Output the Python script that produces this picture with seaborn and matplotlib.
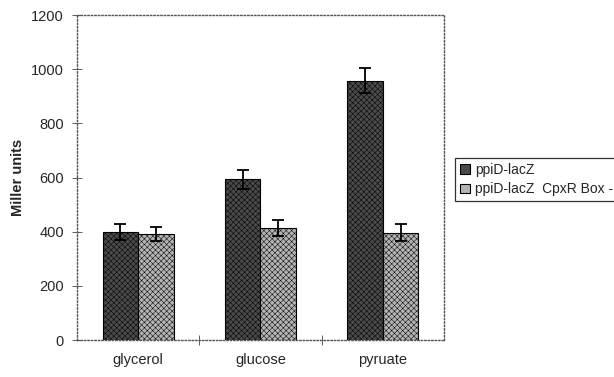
import matplotlib
matplotlib.use("Agg")
import matplotlib.pyplot as plt
import seaborn as sns
import pandas as pd

carbon_sources = ["glycerol", "glucose", "pyruate"]
strains = ["ppiD-lacZ", "ppiD-lacZ  CpxR Box -"]
wild_type = [400, 593, 958]
wild_type_err = [29, 36, 46]
box_mutant = [392, 414, 397]
box_mutant_err = [27, 31, 30]
y_ticks = [0, 200, 400, 600, 800, 1000, 1200]

sns.set_theme(style="white")
plt.rcParams["font.family"] = ["Liberation Sans", "DejaVu Sans"]
plt.rcParams["hatch.linewidth"] = 0.35

df = pd.DataFrame({
    "source": carbon_sources * 2,
    "strain": [strains[0]] * 3 + [strains[1]] * 3,
    "miller": wild_type + box_mutant,
    "err": wild_type_err + box_mutant_err,
})

fig = plt.figure(figsize=(6.14, 3.77), dpi=100)
ax = fig.add_axes([0.1254, 0.098, 0.5977, 0.862])

palette = {strains[0]: "#4a4a4a", strains[1]: "#b4b4b4"}
sns.barplot(data=df, x="source", y="miller", hue="strain", order=carbon_sources,
            hue_order=strains, palette=palette, errorbar=None, width=0.58,
            edgecolor="black", linewidth=0.8, saturation=1, ax=ax)

# stippled texture on the bars
for i, patch in enumerate(ax.patches[:6]):
    patch.set_hatch("xxxxxx")
    patch.set_edgecolor("black")

# error bars at each bar centre
for i, patch in enumerate(ax.patches[:6]):
    cx = patch.get_x() + patch.get_width() / 2
    h = patch.get_height()
    e = df["err"].iloc[i]
    ax.errorbar(cx, h, yerr=e, fmt="none", ecolor="black", elinewidth=1.3,
                capsize=4, capthick=1.3, zorder=5)

ax.set_ylim(0, 1200)
ax.set_xlim(-0.5, 2.5)
ax.set_yticks(y_ticks)
ax.set_yticklabels([str(t) for t in y_ticks], fontsize=10.5)
ax.set_xticks(range(3))
ax.set_xticklabels(carbon_sources, fontsize=10.5)
ax.set_xticks([0.5, 1.5], minor=True)
ax.tick_params(axis="x", which="major", length=0, pad=9)
ax.tick_params(axis="x", which="minor", bottom=True, length=7, direction="inout",
               width=0.6, color="#444")
ax.tick_params(axis="y", left=True, length=7, direction="inout", width=0.6,
               color="#444", pad=6)

ax.set_xlabel("")
ax.set_ylabel("Miller units", fontsize=10.5, fontweight="bold", labelpad=4)

for s in ax.spines.values():
    s.set_visible(True)
    s.set_linestyle((0, (1, 1.5)))
    s.set_color("#555555")
    s.set_linewidth(1.0)

leg = ax.legend(loc="upper left", bbox_to_anchor=(0.741, 0.581),
                bbox_transform=fig.transFigure, frameon=True, fancybox=False,
                fontsize=10, handlelength=0.7, handleheight=0.7,
                handletextpad=0.4, borderpad=0.35, labelspacing=0.4,
                borderaxespad=0)
leg.get_frame().set_edgecolor("black")
leg.get_frame().set_linewidth(0.9)

fig.savefig("out.png", dpi=100)
